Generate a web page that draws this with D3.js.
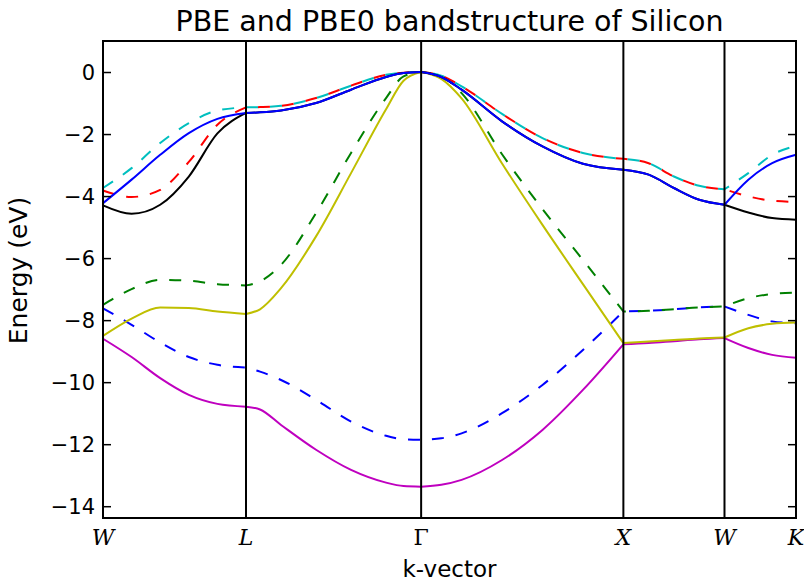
<!DOCTYPE html>
<meta charset="utf-8">
<script src="https://d3js.org/d3.v7.min.js"></script>
<style>
  body { margin: 0; background: #fff; }
  text { font-family: "DejaVu Sans", sans-serif; fill: #000; }
</style>
<div id="my_dataviz"></div>
<script>
  // high symmetry points along the path (k distance, 2pi/a units)
  var kLabels = ["W", "L", "\u0393", "X", "W", "K"];
  var kTicks = [0, 0.7071, 1.5731, 2.5731, 3.0731, 3.4267];
  var yTicks = [0, -2, -4, -6, -8, -10, -12, -14];

  // sampled k points (shared by all bands)
  var kDist = [0, 0.1414, 0.2828, 0.4243, 0.5657, 0.7071,
    0.7765, 0.8803, 1.0534, 1.2265, 1.3996, 1.4862, 1.5731,
    1.6726, 1.7731, 1.9731, 2.1731, 2.3731, 2.5731,
    2.6981, 2.8231, 2.9481, 3.0731,
    3.1910, 3.3088, 3.4267];

  // dashed set (drawn first)
  var dBand1 = [-7.62, -8.15, -8.72, -9.19, -9.44, -9.53,
    -9.66, -9.93, -10.57, -11.27, -11.73, -11.84, -11.86,
    -11.81, -11.65, -11.0, -10.09, -8.96, -7.72,
    -7.70, -7.65, -7.59, -7.56,
    -7.83, -8.04, -8.10];
  var dBand2 = [-7.51, -7.0, -6.70, -6.73, -6.84, -6.88,
    -6.75, -6.22, -4.55, -2.61, -0.84, -0.14, 0,
    -0.13, -0.68, -2.65, -4.42, -6.06, -7.72,
    -7.70, -7.65, -7.59, -7.56,
    -7.29, -7.16, -7.11];
  var dBand3 = [-3.82, -4.03, -3.80, -2.90, -1.70, -1.14,
    -1.13, -1.09, -0.84, -0.44, -0.09, -0.02, 0,
    -0.12, -0.46, -1.35, -2.13, -2.61, -2.80,
    -2.94, -3.37, -3.67, -3.78,
    -4.01, -4.15, -4.19];
  var dBand4 = [-3.74, -3.10, -2.29, -1.65, -1.24, -1.14,
    -1.13, -1.09, -0.84, -0.44, -0.09, -0.02, 0,
    -0.12, -0.46, -1.35, -2.13, -2.61, -2.80,
    -2.94, -3.37, -3.67, -3.78,
    -3.26, -2.67, -2.38];

  // solid set (drawn on top)
  var sBand1 = [-8.60, -9.19, -9.87, -10.41, -10.70, -10.79,
    -10.88, -11.38, -12.18, -12.83, -13.24, -13.35, -13.37,
    -13.31, -13.15, -12.51, -11.54, -10.25, -8.78,
    -8.74, -8.68, -8.62, -8.58,
    -8.90, -9.12, -9.21];
  var sBand2 = [-8.51, -7.95, -7.59, -7.61, -7.72, -7.80,
    -7.65, -6.97, -5.30, -3.26, -1.20, -0.28, 0,
    -0.22, -0.85, -2.95, -4.93, -6.84, -8.74,
    -8.69, -8.64, -8.59, -8.56,
    -8.26, -8.12, -8.08];
  var sBand3 = [-4.30, -4.57, -4.28, -3.37, -1.98, -1.32,
    -1.30, -1.24, -1.0, -0.57, -0.16, -0.03, 0,
    -0.16, -0.57, -1.59, -2.40, -2.96, -3.15,
    -3.31, -3.74, -4.12, -4.28,
    -4.53, -4.71, -4.76];
  var sBand4 = [-4.23, -3.47, -2.67, -1.97, -1.51, -1.32,
    -1.30, -1.24, -1.0, -0.57, -0.16, -0.03, 0,
    -0.16, -0.57, -1.59, -2.40, -2.96, -3.15,
    -3.31, -3.74, -4.12, -4.28,
    -3.47, -2.94, -2.67];

  var bands = [
    { e: dBand1, color: "#0000ff", dash: true },
    { e: dBand2, color: "#008000", dash: true },
    { e: dBand3, color: "#ff0000", dash: true },
    { e: dBand4, color: "#00bfbf", dash: true },
    { e: sBand1, color: "#bf00bf", dash: false },
    { e: sBand2, color: "#bfbf00", dash: false },
    { e: sBand3, color: "#000000", dash: false },
    { e: sBand4, color: "#0000ff", dash: false }
  ];

  var margin = { top: 41, right: 8, bottom: 64, left: 103 },
    width = 804 - margin.left - margin.right,
    height = 582 - margin.top - margin.bottom;

  var svg = d3.select("#my_dataviz")
    .append("svg")
    .attr("width", 804)
    .attr("height", 582)
    .append("g")
    .attr("transform", "translate(" + margin.left + "," + margin.top + ")");

  var x = d3.scaleLinear().domain([0, kTicks[kTicks.length - 1]]).range([0, width]);
  var y = d3.scaleLinear().domain([-14.38, 1.0]).range([height, 0]);

  var line = d3.line()
    .x(function (d) { return x(d[0]); })
    .y(function (d) { return y(d[1]); })
    .curve(d3.curveMonotoneX);

  // draw each band segment by segment so kinks at the symmetry points stay,
  // carrying the dash phase over so it looks like one continuous line
  bands.forEach(function (b) {
    var done = 0;
    for (var s = 0; s < kTicks.length - 1; s++) {
      var pts = [];
      kDist.forEach(function (k, i) {
        if (k >= kTicks[s] - 1e-6 && k <= kTicks[s + 1] + 1e-6) pts.push([k, b.e[i]]);
      });
      var p = svg.append("path")
        .datum(pts)
        .attr("d", line)
        .attr("fill", "none")
        .attr("stroke", b.color)
        .attr("stroke-width", 2);
      if (b.dash) {
        p.attr("stroke-dasharray", "12,12").attr("stroke-dashoffset", done % 24);
        done += p.node().getTotalLength();
      }
    }
  });

  // vertical lines at the symmetry points
  svg.selectAll("vlines")
    .data(kTicks)
    .enter()
    .append("line")
    .attr("x1", function (d) { return x(d); })
    .attr("x2", function (d) { return x(d); })
    .attr("y1", 0)
    .attr("y2", height)
    .attr("stroke", "black")
    .attr("stroke-width", 2);

  // y axis, ticks inward on both sides
  var yAxisL = svg.append("g")
    .call(d3.axisRight(y).tickValues(yTicks).tickSize(8).tickFormat(""));
  var yAxisR = svg.append("g")
    .attr("transform", "translate(" + width + ",0)")
    .call(d3.axisLeft(y).tickValues(yTicks).tickSize(8).tickFormat(""));
  [yAxisL, yAxisR].forEach(function (g) {
    g.select(".domain").remove();
    g.selectAll("line").attr("stroke", "black").attr("stroke-width", 1.5);
  });

  svg.selectAll("ylab")
    .data(yTicks)
    .enter()
    .append("text")
    .attr("x", -8)
    .attr("y", function (d) { return y(d); })
    .attr("dy", "0.36em")
    .attr("text-anchor", "end")
    .style("font-size", "21px")
    .text(function (d) { return d < 0 ? "\u2212" + Math.abs(d) : d; });

  svg.selectAll("xlab")
    .data(kTicks)
    .enter()
    .append("text")
    .attr("x", function (d) { return x(d); })
    .attr("y", height + 27)
    .attr("text-anchor", "middle")
    .style("font-family", "'DejaVu Serif', serif")
    .style("font-style", function (d, i) { return i == 2 ? "normal" : "italic"; })
    .style("font-size", "22px")
    .text(function (d, i) { return kLabels[i]; });

  // frame
  svg.append("rect")
    .attr("width", width)
    .attr("height", height)
    .attr("fill", "none")
    .attr("stroke", "black")
    .attr("stroke-width", 2);

  svg.append("text")
    .attr("x", width / 2)
    .attr("y", -10)
    .attr("text-anchor", "middle")
    .style("font-size", "28.5px")
    .text("PBE and PBE0 bandstructure of Silicon");

  svg.append("text")
    .attr("x", width / 2)
    .attr("y", height + 59)
    .attr("text-anchor", "middle")
    .style("font-size", "23px")
    .text("k-vector");

  svg.append("text")
    .attr("transform", "translate(-76," + (height / 2 - 9) + ") rotate(-90)")
    .attr("text-anchor", "middle")
    .style("font-size", "25px")
    .text("Energy (eV)");
</script>
